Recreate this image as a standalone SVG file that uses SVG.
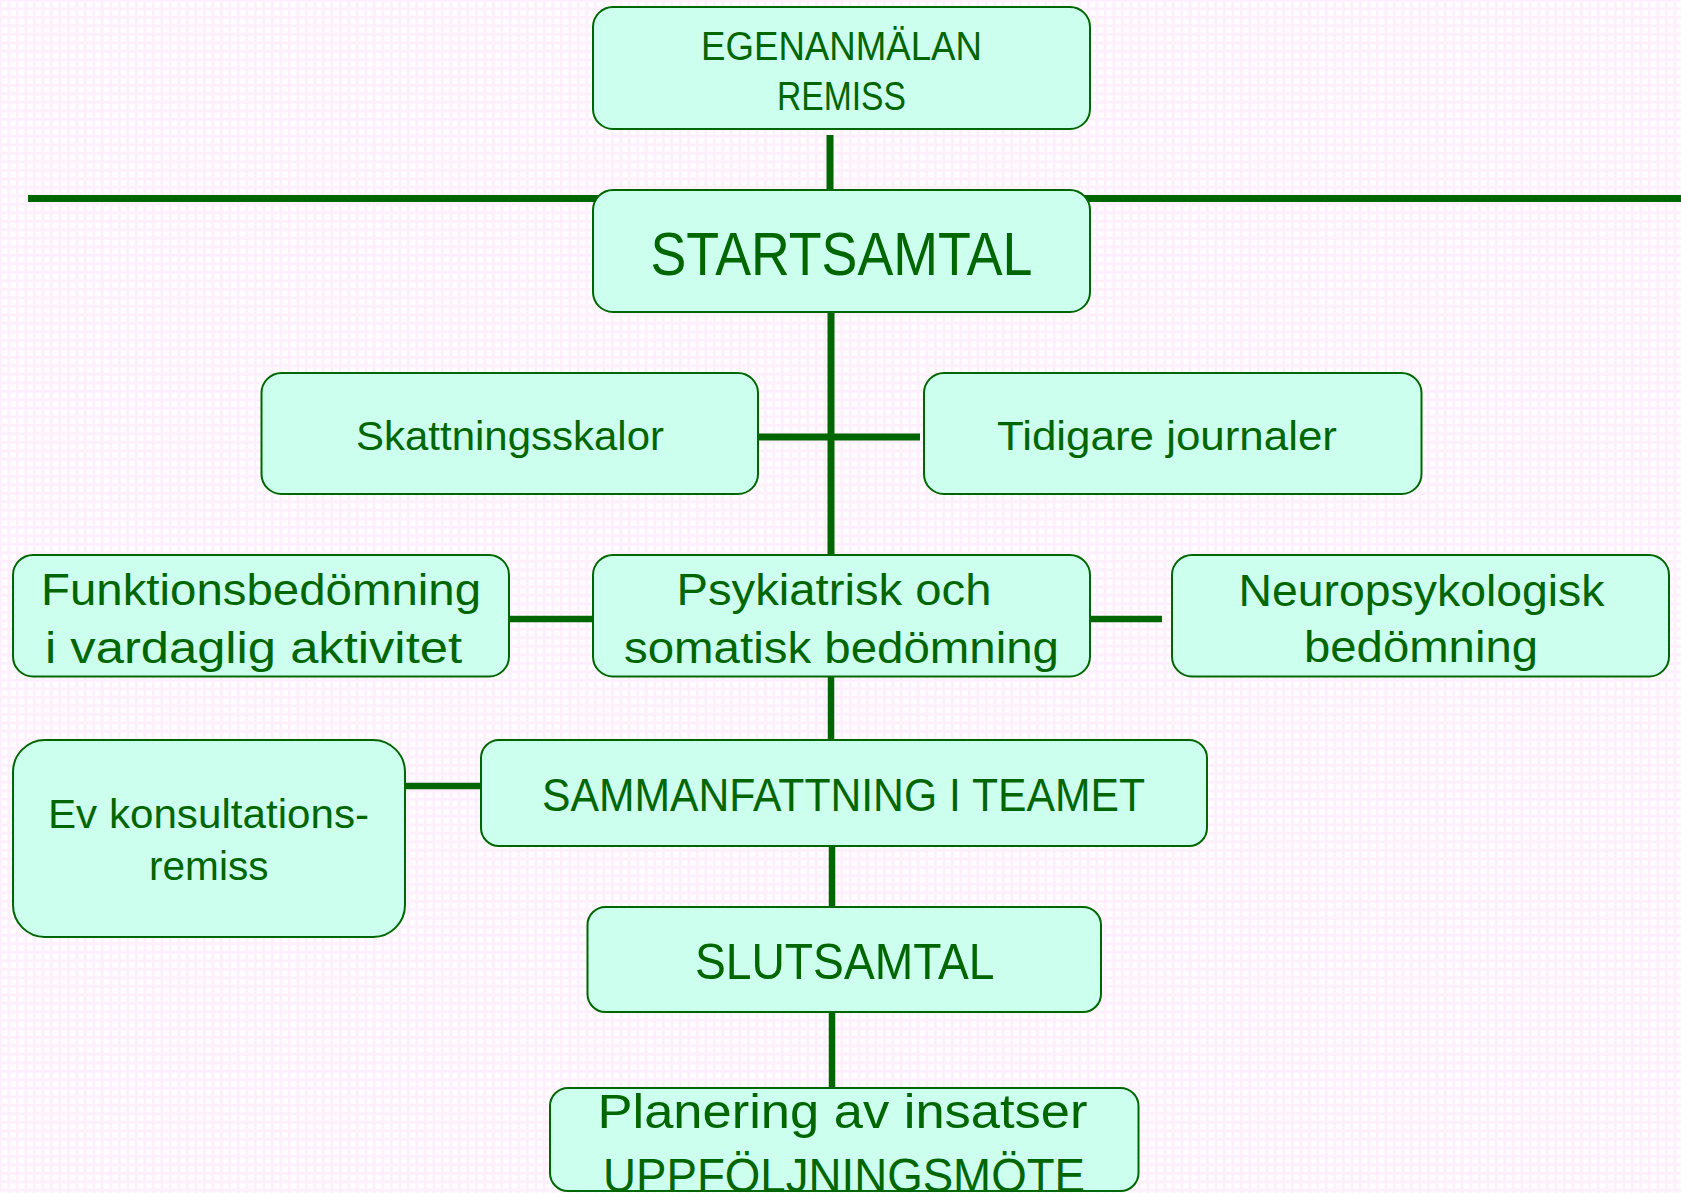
<svg xmlns="http://www.w3.org/2000/svg" width="1681" height="1193" viewBox="0 0 1681 1193">
<defs>
<pattern id="grid" width="8.5" height="8.5" patternUnits="userSpaceOnUse">
<rect width="8.5" height="8.5" fill="#fdeffb"/>
<rect x="1.5" y="1.5" width="6" height="6" fill="#fffcff"/>
</pattern>
</defs>
<style>
.box{fill:#ccffee;stroke:#006600;stroke-width:2}
.t{font-family:"Liberation Sans",Arial,sans-serif;fill:#006600}
.ln{stroke:#006600;stroke-width:6.5;fill:none}
</style>
<rect width="1681" height="1193" fill="url(#grid)"/>
<g id="connectors">
<line class="ln" x1="28" y1="198.5" x2="1681" y2="198.5" style="stroke-width:7"/>
<line class="ln" x1="830" y1="135" x2="830" y2="190" style="stroke-width:7"/>
<line class="ln" x1="831" y1="312" x2="831" y2="555" style="stroke-width:7"/>
<line class="ln" x1="758" y1="437" x2="920" y2="437" style="stroke-width:7"/>
<line class="ln" x1="509" y1="619" x2="593" y2="619"/>
<line class="ln" x1="1090" y1="619" x2="1162" y2="619"/>
<line class="ln" x1="831" y1="676" x2="831" y2="740"/>
<line class="ln" x1="405" y1="786" x2="481" y2="786"/>
<line class="ln" x1="832" y1="846" x2="832" y2="907"/>
<line class="ln" x1="832" y1="1012" x2="832" y2="1088"/>
</g>
<g id="egenanmalan">
<rect class="box" x="593" y="7" width="497" height="122" rx="20"/>
<text class="t" x="841.5" y="59.5" font-size="41" text-anchor="middle" textLength="281" lengthAdjust="spacingAndGlyphs">EGENANMÄLAN</text>
<text class="t" x="841.5" y="110" font-size="41" text-anchor="middle" textLength="129" lengthAdjust="spacingAndGlyphs">REMISS</text>
</g>
<g id="startsamtal">
<rect class="box" x="593" y="190" width="497" height="122" rx="20"/>
<text class="t" x="841.5" y="275" font-size="62" text-anchor="middle" textLength="382" lengthAdjust="spacingAndGlyphs">STARTSAMTAL</text>
</g>
<g id="skattningsskalor">
<rect class="box" x="261.5" y="373" width="496.5" height="121" rx="20"/>
<text class="t" x="356" y="450" font-size="41" textLength="308" lengthAdjust="spacingAndGlyphs">Skattningsskalor</text>
</g>
<g id="tidigare">
<rect class="box" x="924" y="373" width="497.5" height="121" rx="20"/>
<text class="t" x="997" y="449.5" font-size="40" textLength="340" lengthAdjust="spacingAndGlyphs">Tidigare journaler</text>
</g>
<g id="funktionsbedomning">
<rect class="box" x="13" y="555" width="496" height="121.5" rx="20"/>
<text class="t" x="41" y="605" font-size="44" textLength="440" lengthAdjust="spacingAndGlyphs">Funktionsbedömning</text>
<text class="t" x="45" y="663" font-size="44" textLength="417" lengthAdjust="spacingAndGlyphs">i vardaglig aktivitet</text>
</g>
<g id="psykiatrisk">
<rect class="box" x="593" y="555" width="497" height="121.5" rx="20"/>
<text class="t" x="676.5" y="605" font-size="44" textLength="315" lengthAdjust="spacingAndGlyphs">Psykiatrisk och</text>
<text class="t" x="624" y="663" font-size="44" textLength="435" lengthAdjust="spacingAndGlyphs">somatisk bedömning</text>
</g>
<g id="neuropsykologisk">
<rect class="box" x="1172" y="555" width="497" height="121.5" rx="20"/>
<text class="t" x="1238.5" y="605.5" font-size="44" textLength="366" lengthAdjust="spacingAndGlyphs">Neuropsykologisk</text>
<text class="t" x="1304" y="662" font-size="44" textLength="234" lengthAdjust="spacingAndGlyphs">bedömning</text>
</g>
<g id="ev-konsultationsremiss">
<rect class="box" x="13" y="740" width="392" height="197" rx="32"/>
<text class="t" x="48" y="828" font-size="40" textLength="321" lengthAdjust="spacingAndGlyphs">Ev konsultations-</text>
<text class="t" x="149" y="880" font-size="40" textLength="119.5" lengthAdjust="spacingAndGlyphs">remiss</text>
</g>
<g id="sammanfattning">
<rect class="box" x="481" y="740" width="726" height="106" rx="18"/>
<text class="t" x="542" y="810.5" font-size="46" textLength="603" lengthAdjust="spacingAndGlyphs">SAMMANFATTNING I TEAMET</text>
</g>
<g id="slutsamtal">
<rect class="box" x="587.5" y="907" width="513.5" height="105" rx="18"/>
<text class="t" x="695" y="978.5" font-size="50" textLength="299.5" lengthAdjust="spacingAndGlyphs">SLUTSAMTAL</text>
</g>
<g id="planering">
<rect class="box" x="550" y="1088" width="588.5" height="103" rx="18"/>
<text class="t" x="597.5" y="1128" font-size="49" textLength="490" lengthAdjust="spacingAndGlyphs">Planering av insatser</text>
<text class="t" x="603" y="1192" font-size="49" textLength="482" lengthAdjust="spacingAndGlyphs">UPPFÖLJNINGSMÖTE</text>
</g>
</svg>
